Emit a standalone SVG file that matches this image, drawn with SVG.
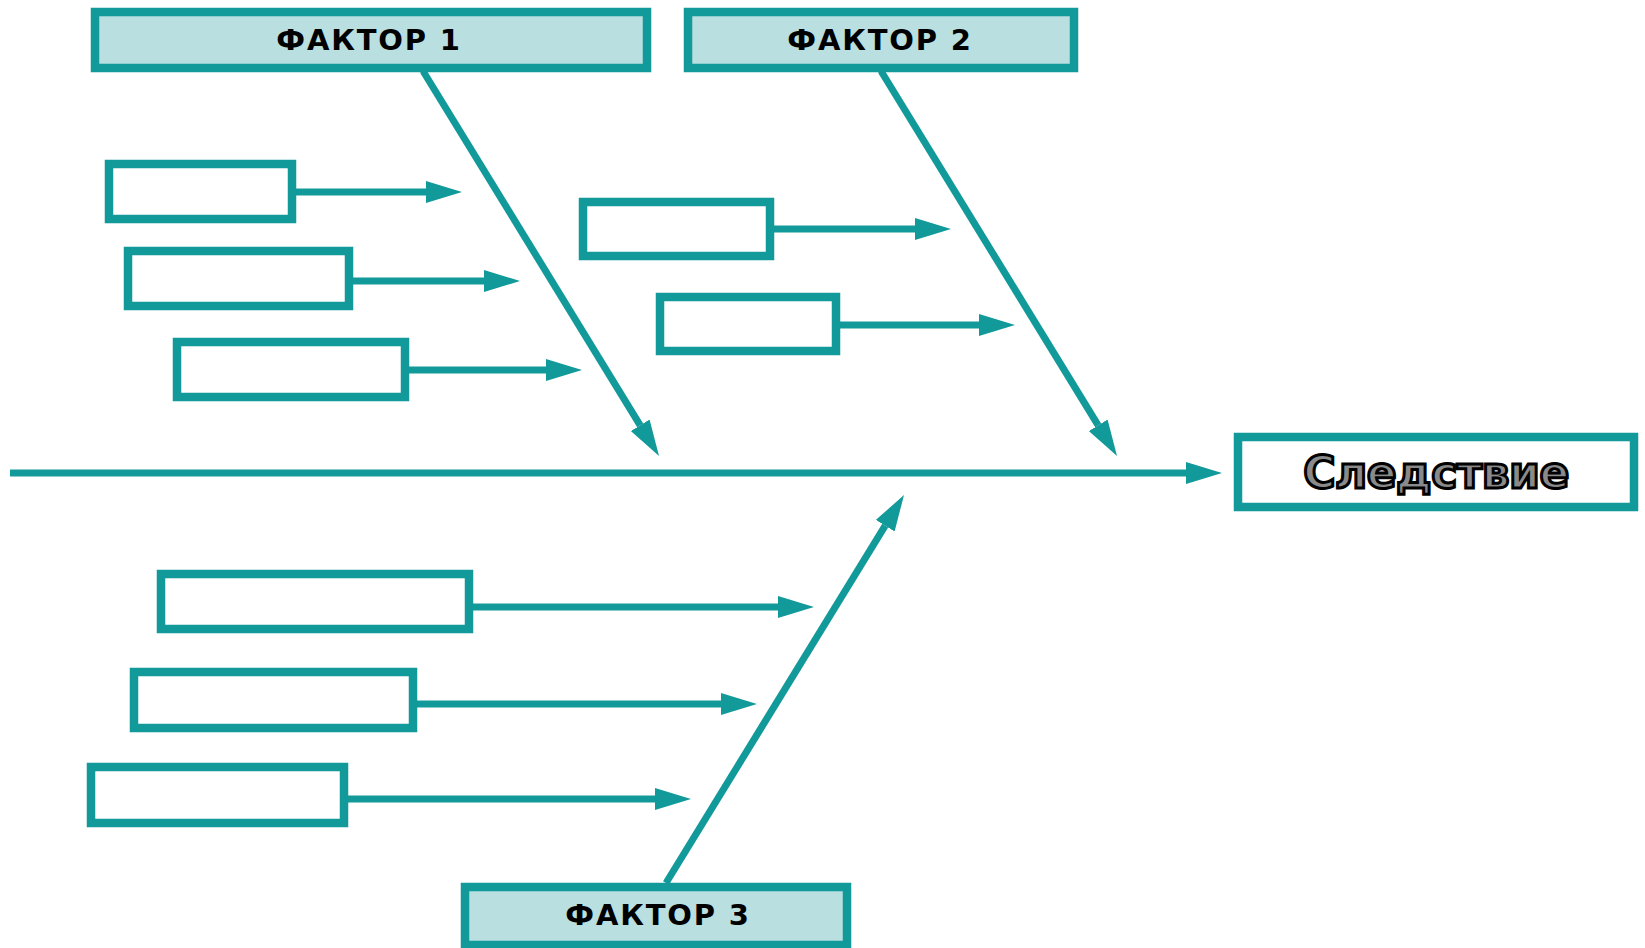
<svg xmlns="http://www.w3.org/2000/svg" width="1645" height="948" viewBox="0 0 1645 948">
<style>
.box{fill:#ffffff;stroke:#12999A;stroke-width:8.5}
.fac{fill:#B9DFE1;stroke:#12999A;stroke-width:8.5}
.ln{stroke:#12999A;stroke-width:7;fill:none}
.ft{font-family:"DejaVu Sans",Verdana,sans-serif;font-weight:bold;font-size:29px;fill:#000;text-anchor:middle;letter-spacing:1.8px}
.res{font-family:"DejaVu Sans",sans-serif;font-weight:bold;font-size:44px;fill:#8a8a8a;stroke:#000;stroke-width:3;text-anchor:middle;letter-spacing:-0.5px}
</style>
<defs>
<marker id="ah" markerUnits="userSpaceOnUse" markerWidth="40" markerHeight="24" refX="0" refY="11" orient="auto">
<path d="M0,0 L36,11 L0,22 z" fill="#12999A"/>
</marker>
</defs>
<rect width="1645" height="948" fill="#fff"/>
<g id="connectors">
<line class="ln" x1="10" y1="473" x2="1186" y2="473" marker-end="url(#ah)"/>
<line class="ln" x1="423" y1="71" x2="640.2" y2="425.3" marker-end="url(#ah)"/>
<line class="ln" x1="881" y1="71" x2="1098.2" y2="425.3" marker-end="url(#ah)"/>
<line class="ln" x1="666" y1="883" x2="885.2" y2="525.7" marker-end="url(#ah)"/>
<line class="ln" x1="296" y1="192" x2="426" y2="192" marker-end="url(#ah)"/>
<line class="ln" x1="353" y1="281" x2="484" y2="281" marker-end="url(#ah)"/>
<line class="ln" x1="409" y1="370" x2="546" y2="370" marker-end="url(#ah)"/>
<line class="ln" x1="774" y1="229" x2="915" y2="229" marker-end="url(#ah)"/>
<line class="ln" x1="840" y1="325" x2="979" y2="325" marker-end="url(#ah)"/>
<line class="ln" x1="473" y1="607" x2="778" y2="607" marker-end="url(#ah)"/>
<line class="ln" x1="417" y1="704" x2="721" y2="704" marker-end="url(#ah)"/>
<line class="ln" x1="348" y1="799" x2="655" y2="799" marker-end="url(#ah)"/>
</g>
<g id="factor1"><rect class="fac" x="95" y="12" width="552" height="56"/><text class="ft" x="369" y="50">ФАКТОР 1</text></g>
<g id="factor2"><rect class="fac" x="688" y="12" width="386" height="56"/><text class="ft" x="880" y="50">ФАКТОР 2</text></g>
<g id="factor3"><rect class="fac" x="465" y="887" width="382" height="58"/><text class="ft" x="658" y="925">ФАКТОР 3</text></g>
<g id="effect"><rect class="box" x="1238" y="437" width="396" height="70"/><text class="res" x="1436" y="488">Следствие</text></g>
<g id="cause1"><rect class="box" x="109" y="164" width="183" height="55"/></g>
<g id="cause2"><rect class="box" x="128" y="251" width="221" height="55"/></g>
<g id="cause3"><rect class="box" x="177" y="342" width="228" height="55"/></g>
<g id="cause4"><rect class="box" x="583" y="202" width="187" height="54"/></g>
<g id="cause5"><rect class="box" x="660" y="297" width="176" height="54"/></g>
<g id="cause6"><rect class="box" x="161" y="574" width="308" height="55"/></g>
<g id="cause7"><rect class="box" x="134" y="672" width="279" height="56"/></g>
<g id="cause8"><rect class="box" x="91" y="767" width="253" height="56"/></g>
</svg>
